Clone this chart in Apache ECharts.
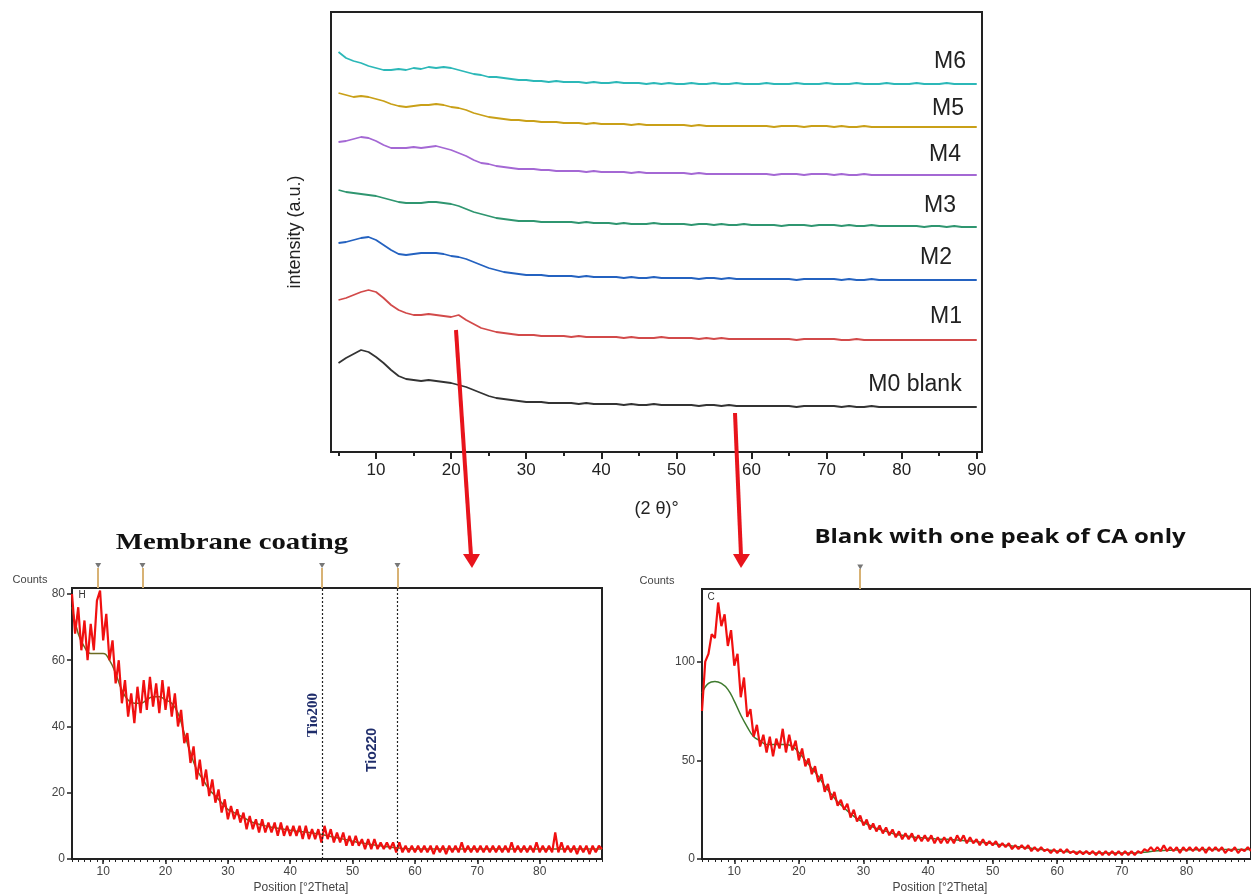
<!DOCTYPE html>
<html><head><meta charset="utf-8">
<script src="https://cdn.jsdelivr.net/npm/echarts@6/dist/echarts.min.js"></script>
<style>html,body{margin:0;padding:0;background:#fff}#c{width:1251px;height:896px}</style>
</head><body><div id="c"></div>
<script>
// ---------- top panel: stacked XRD patterns (2θ = 5..90, 1° sampling) ----------
const topStart = 5, topStep = 1;
const topNames = ['M6','M5','M4','M3','M2','M1','M0 blank'];
const topColors = ['#2cb8b8','#c9a018','#a468d4','#2f9670','#2462c0','#d24a4a','#333333'];
const m6 = [400,394,391,389,386,384,382,382,383,382,
384,383,385,384,385,384,382,380,378,377,
375,375,374,373,372,372,371,371,370,371,
370,370,370,369,370,369,369,370,369,369,
369,368,369,368,369,368,368,369,368,368,
369,368,368,369,368,368,368,369,368,368,
368,369,368,368,368,369,368,368,368,369,
368,368,368,369,368,368,368,369,368,368,
368,369,368,368,368,368];
const m5 = [359,357,355,356,355,353,351,348,346,345,
346,347,347,348,347,345,344,342,339,337,
335,334,333,332,332,331,331,330,330,330,
329,329,329,328,329,328,328,328,328,327,
328,327,327,327,327,327,327,326,327,326,
326,326,326,326,326,326,326,326,325,326,
326,326,325,326,326,326,325,326,325,325,
326,325,325,325,325,325,325,325,325,325,
325,325,325,325,325,325];
const m4 = [310,311,313,315,314,311,307,304,304,304,
305,304,305,306,304,302,299,296,292,289,
288,286,285,284,283,283,283,282,282,281,
281,281,281,280,281,280,280,280,280,279,
280,279,279,279,279,279,279,278,279,278,
278,278,278,278,278,278,278,278,277,278,
278,278,277,278,278,278,277,278,277,277,
278,277,277,277,277,277,277,277,277,277,
277,277,277,277,277,277];
const m3 = [262,260,259,258,257,256,254,252,250,249,
249,249,250,250,249,248,246,243,240,238,
236,234,233,232,231,231,231,230,230,230,
230,230,229,230,229,229,229,228,229,228,
228,228,229,228,228,228,228,227,228,228,
227,228,227,227,228,227,227,227,227,226,
227,227,227,226,227,227,227,226,227,226,
226,227,226,226,226,226,226,226,225,226,
226,225,226,225,225,225];
const m2 = [209,210,212,214,215,212,207,202,198,197,
198,199,199,199,198,196,195,193,190,187,
184,182,180,179,178,177,177,177,176,176,
176,176,175,176,175,175,175,175,174,175,
174,174,175,174,174,174,174,174,173,174,
174,173,174,173,173,173,173,173,173,173,
173,172,173,173,173,173,173,172,173,172,
172,173,172,172,172,172,172,172,172,172,
172,172,172,172,172,172];
const m1 = [152,154,157,160,162,160,154,147,142,139,
137,137,138,137,136,135,137,132,128,124,
122,120,119,118,117,117,117,116,116,116,
116,115,116,115,115,115,115,115,114,115,
114,114,114,115,114,114,114,114,113,114,
113,114,113,113,113,113,113,113,113,113,
113,112,113,113,113,113,113,112,112,113,
112,112,112,112,112,112,112,112,112,112,
112,112,112,112,112,112];
const m0 = [89,94,98,102,100,95,89,82,76,73,
72,71,72,71,70,69,67,65,62,59,
56,54,53,52,51,50,50,50,49,49,
49,49,48,49,48,48,48,48,47,48,
47,47,48,47,47,47,47,47,46,47,
47,46,47,46,46,46,46,46,46,46,
46,45,46,46,46,46,46,45,46,45,
45,46,45,45,45,45,45,45,45,45,
45,45,45,45,45,45];
const topSeriesValues = [m6,m5,m4,m3,m2,m1,m0];
const topTickLabels = [10,20,30,40,50,60,70,80,90];
const topMinorTicks = [5,15,25,35,45,55,65,75,85];

// ---------- bottom panels: raw counts (0.5° sampling) and fitted background (1°) ----------
const rawStart = 5, rawStep = 0.5;
const fitStart = 5, fitStep = 1;
const coatingCounts = [80,68,76,63,72,60,71,63,78,81,
66,74,60,66,53,60,47,54,43,50,
41,52,44,54,45,55,46,53,44,54,
45,52,43,50,40,45,35,38,29,34,
24,30,22,27,19,24,17,21,14,18,
12,16,12,15,11,14,9,13,9,12,
8,12,8,11,8,11,7,11,7,10,
7,10,7,10,6,10,6,9,6,9,
5,10,6,9,5,8,5,8,4,7,
4,7,4,6,3,6,3,6,3,5,
3,5,3,5,2,5,2,4,2,4,
2,4,2,4,2,4,1.5,4,2,4,
1.5,4,2,4,2,5,2,4,2,4,
2,4,2,4,2,4,2,4,2,4,
2,5,2,4,2,4,2,4,2,5,
2,4,2,4,2,8,2,5,2,4,
2,4,1.5,4,2,4,1.5,4,2,4,
3];
const coatingFit = [76,68,64,62,62,62,60,56,51,48,
47,47,48,49,49,48,47,44,38,32,
27,24,21,19,17,15,14,13,12,11,
10.5,10,9.6,9.3,9,8.7,8.4,8.2,8,7.7,
7.4,7,6.6,6.2,5.8,5.4,5,4.7,4.4,4.1,
3.8,3.6,3.4,3.2,3.1,3,3,3,3,3,
3,3,3,3,3,3,3,3,3,3,
3,3,3,3,3,3,3,3,3,3,
3,3,3,3,3,3];
const blankCounts = [75,100,104,114,112,130,118,124,108,116,
98,104,82,92,72,76,62,68,57,63,
54,62,52,61,56,66,54,63,55,60,
50,56,47,51,43,47,39,43,34,38,
30,34,27,30,25,28,21,25,19,22,
17,20,15,18,14,17,13,16,12,15,
11,14,10,13,10,13,9,12,9,12,
9,12,8,11,8,11,8,11,8,12,
9,12,8,11,8,10,7,10,7,9,
7,9,6,8,6,8,5,7,5,7,
5,7,4,6,4,6,4,5,3,5,
3,5,3,5,3,4,2.5,4,2.5,4,
2.5,4,2,4,2,4,2,4,2,4,
2,4,2,4,2,4,3,5,4,6,
4,6,4,7,4,6,4,6,3,6,
4,6,4,6,4,6,3,6,4,6,
4,6,3,5,4,6,3,5,4,6,
4];
const blankFit = [84,89,90,89,86,80,73,67,62,60,
58,58,58,58,57,54,50,46,42,37,
33,29,26,23,20.5,18.5,17,15.5,14.5,13.5,
12.5,12,11.5,11,10.8,10.5,10.3,10,10,9.8,
9.5,9.2,9,8.6,8.2,7.8,7.4,7,6.6,6.2,
5.8,5.4,5,4.7,4.4,4,3.8,3.6,3.4,3.3,
3.2,3.1,3,3,3,3,3,3.1,3.3,3.6,
4,4.2,4.4,4.5,4.6,4.7,4.7,4.8,4.8,4.8,
4.8,4.8,4.8,4.8,4.8,4.8];
const bottomTickLabels = [10,20,30,40,50,60,70,80];
const coatingYTicks = [0,20,40,60,80];
const blankYTicks = [0,50,100];
const coatingPeaks = [9.2,16.3,45.1,57.2];   // reference-pattern sticks
const coatingPeakLines = [45.1,57.2];        // TiO2 (200), (220)
const blankPeaks = [29.5];

function pairs(start, step, arr){ return arr.map((v,i)=>[start+i*step, v]); }
const bottomMinor = coatingFit.map((v,i)=>fitStart+i*fitStep);

const FS = '"Liberation Sans", Arial, sans-serif';
const chart = echarts.init(document.getElementById('c'), null, {renderer:'canvas'});

const series = [];
topSeriesValues.forEach((vals,k)=>{
  series.push({type:'line', name:topNames[k], xAxisIndex:0, yAxisIndex:0, data:pairs(topStart,topStep,vals),
    showSymbol:false, lineStyle:{color:topColors[k], width:1.8}, itemStyle:{color:topColors[k]}, silent:true});
});
series.push({type:'line', name:'coating fit', xAxisIndex:2, yAxisIndex:1, data:pairs(fitStart,fitStep,coatingFit),
  showSymbol:false, smooth:true, lineStyle:{color:'#6b6a22', width:1.5}, z:2});
series.push({type:'line', name:'coating', xAxisIndex:2, yAxisIndex:1, data:pairs(rawStart,rawStep,coatingCounts),
  showSymbol:false, lineStyle:{color:'#f01010', width:2.2}, z:3,
  markLine:{silent:true, symbol:'none', label:{show:false},
    lineStyle:{color:'#222', type:[2,2], width:1.2},
    data:coatingPeakLines.map(v=>({xAxis:v}))}});
series.push({type:'scatter', xAxisIndex:2, yAxisIndex:1, clip:false, silent:true,
  data:coatingPeaks.map(v=>[v,88.6]), symbol:'triangle', symbolRotate:180, symbolSize:[6,5],
  itemStyle:{color:'#555'}});
series.push({type:'line', name:'blank fit', xAxisIndex:5, yAxisIndex:2, data:pairs(fitStart,fitStep,blankFit),
  showSymbol:false, smooth:true, lineStyle:{color:'#3e7a2e', width:1.5}, z:2});
series.push({type:'line', name:'blank', xAxisIndex:5, yAxisIndex:2, data:pairs(rawStart,rawStep,blankCounts),
  showSymbol:false, lineStyle:{color:'#f01010', width:2.2}, z:3});
series.push({type:'scatter', xAxisIndex:5, yAxisIndex:2, clip:false, silent:true,
  data:blankPeaks.map(v=>[v,148]), symbol:'triangle', symbolRotate:180, symbolSize:[6,5],
  itemStyle:{color:'#555'}});

function majorX(grid,min,max,labels,fs,col,extra){
  return Object.assign({type:'value', gridIndex:grid, min:min, max:max, splitLine:{show:false},
    axisLine:{show:true, onZero:false, lineStyle:{color:'#222', width:2}},
    axisTick:{show:true, customValues:labels, length:fs>14?7:5, lineStyle:{color:'#222', width:fs>14?2:1.5}},
    axisLabel:{customValues:labels, fontSize:fs, color:col, fontFamily:FS, margin:fs>14?10:7}}, extra||{});
}
function minorX(grid,min,max,ticks,len,pos){
  return {type:'value', gridIndex:grid, min:min, max:max, position:pos||'bottom', splitLine:{show:false},
    axisLine:{show:false}, axisLabel:{show:false},
    axisTick:{show:true, customValues:ticks, length:len, lineStyle:{color:'#222', width:1}}};
}
function txt(x,y,text,font,fill,extra){
  return Object.assign({type:'text', x:x, y:y, z:50, style:{text:text, font:font, fill:fill, textAlign:'center', textVerticalAlign:'middle'}}, extra||{});
}

const option = {
  animation:false,
  backgroundColor:'#fff',
  grid:[
    {left:331, top:12, width:651, height:440, show:true, borderColor:'#222', borderWidth:2},
    {left:72, top:588, width:530, height:271, show:true, borderColor:'#222', borderWidth:2},
    {left:702, top:589, width:556, height:270, show:true, borderColor:'#222', borderWidth:2}
  ],
  xAxis:[
    majorX(0,4,90.7,topTickLabels,17,'#222',{name:'(2 θ)°', nameLocation:'middle', nameGap:48,
      nameTextStyle:{fontSize:18, color:'#222', fontFamily:FS}}),
    Object.assign(minorX(0,4,90.7,topMinorTicks,4),{axisTick:{show:true, customValues:topMinorTicks, length:4, lineStyle:{color:'#222', width:2}}}),
    majorX(1,5,90,bottomTickLabels,12,'#444'),
    minorX(1,5,90,bottomMinor,3),
    {type:'value', gridIndex:1, min:5, max:90, position:'top', splitLine:{show:false}, axisLine:{show:false},
      axisLabel:{show:false}, axisTick:{show:true, inside:false, customValues:coatingPeaks, length:20, lineStyle:{color:'#d8b274', width:2}}},
    majorX(2,5,90,bottomTickLabels,12,'#444'),
    minorX(2,5,90,bottomMinor,3),
    {type:'value', gridIndex:2, min:5, max:90, position:'top', splitLine:{show:false}, axisLine:{show:false},
      axisLabel:{show:false}, axisTick:{show:true, inside:false, customValues:blankPeaks, length:20, lineStyle:{color:'#d8b274', width:2}}}
  ],
  yAxis:[
    {type:'value', gridIndex:0, min:0, max:440, splitLine:{show:false}, axisTick:{show:false}, axisLabel:{show:false},
      axisLine:{show:true, lineStyle:{color:'#222', width:2}},
      name:'intensity (a.u.)', nameLocation:'middle', nameGap:27, nameRotate:90,
      nameTextStyle:{fontSize:18, color:'#222', fontFamily:FS}},
    {type:'value', gridIndex:1, min:0, max:81.8, splitLine:{show:false},
      axisLine:{show:true, lineStyle:{color:'#222', width:2}},
      axisTick:{show:true, customValues:coatingYTicks, length:5, lineStyle:{color:'#222', width:1.5}},
      axisLabel:{customValues:coatingYTicks, fontSize:12, color:'#444', fontFamily:FS, margin:7}},
    {type:'value', gridIndex:2, min:0, max:136.85, splitLine:{show:false},
      axisLine:{show:true, lineStyle:{color:'#222', width:2}},
      axisTick:{show:true, customValues:blankYTicks, length:5, lineStyle:{color:'#222', width:1.5}},
      axisLabel:{customValues:blankYTicks, fontSize:12, color:'#444', fontFamily:FS, margin:7}}
  ],
  series:series,
  graphic:[
    // curve labels
    txt(950,62,'M6','23px '+FS,'#222'),
    txt(948,109,'M5','23px '+FS,'#222'),
    txt(945,155,'M4','23px '+FS,'#222'),
    txt(940,206,'M3','23px '+FS,'#222'),
    txt(936,258,'M2','23px '+FS,'#222'),
    txt(946,317,'M1','23px '+FS,'#222'),
    txt(915,385,'M0 blank','23px '+FS,'#222'),
    // panel titles
    txt(232,543,'Membrane coating','bold 23px "Liberation Serif", "Times New Roman", serif','#111',{scaleX:1.25}),
    txt(1000,537,'Blank with one peak of CA only','bold 20px "Open Sans", sans-serif','#111',{scaleX:1.2}),
    txt(30,580,'Counts','11px '+FS,'#444'),
    txt(657,581,'Counts','11px '+FS,'#444'),
    txt(301,888,'Position [°2Theta]','12px '+FS,'#444'),
    txt(940,888,'Position [°2Theta]','12px '+FS,'#444'),
    txt(82,595,'H','10px '+FS,'#333'),
    txt(711,597,'C','10px '+FS,'#333'),
    txt(313,715,'Tio200','bold 15px "Liberation Serif", serif','#1f2d6b',{rotation:Math.PI/2}),
    txt(372,750,'Tio220','bold 14px '+FS,'#1f2d6b',{rotation:Math.PI/2}),
    // arrows
    {type:'line', z:60, shape:{x1:456, y1:330, x2:471, y2:556}, style:{stroke:'#e8141c', lineWidth:4}},
    {type:'polygon', z:60, shape:{points:[[463,554],[480,554],[472,568]]}, style:{fill:'#e8141c'}},
    {type:'line', z:60, shape:{x1:735, y1:413, x2:741, y2:556}, style:{stroke:'#e8141c', lineWidth:4}},
    {type:'polygon', z:60, shape:{points:[[733,554],[750,554],[741,568]]}, style:{fill:'#e8141c'}}
  ]
};
chart.setOption(option);
</script>
</body></html>
